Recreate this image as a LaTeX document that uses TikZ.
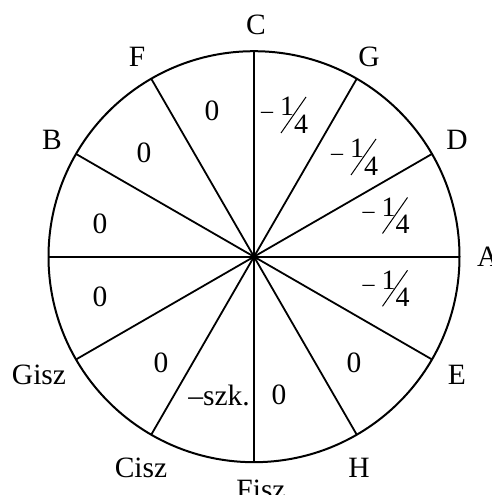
\documentclass[tikz,border=0pt]{standalone}
\usepackage{fontspec}
\setmainfont{Liberation Serif}
\begin{document}
\begin{tikzpicture}[x=1pt,y=-1pt,
  lab/.style={inner sep=0pt,font=\fontsize{29.5}{36}\selectfont},
  sm/.style={inner sep=0pt,font=\fontsize{28}{34}\selectfont},
  mn/.style={inner sep=0pt,font=\fontsize{24}{30}\selectfont},
  qtr/.pic={
    \node[mn] (-m) at (-26,0) {\textendash};
    \node[sm] (-n) at (-6,-8.5) {1};
    \node[sm] (-d) at (8,9) {4};
    \draw[line width=1pt] (-12,18) -- (13,-18);
  }]
\useasboundingbox (0,0) rectangle (491,495);
\coordinate (O) at (254,256.7);
\draw[line width=2pt] (O) circle[radius=205.5];
\foreach \a in {0,30,...,150}
  \draw[line width=1.8pt,shift={(O)}] (\a:205.5) -- (\a+180:205.5);
% outer labels
\node[lab] (C) at (256,25) {C};
\node[lab] (F) at (137,57) {F};
\node[lab] (G) at (369,57) {G};
\node[lab] (B) at (52,140) {B};
\node[lab] (D) at (457,140) {D};
\node[lab,anchor=west] (A) at (477,257) {A};
\node[lab] (Gisz) at (39,375) {Gisz};
\node[lab] (E) at (457,375) {E};
\node[lab] (Cisz) at (141,468) {Cisz};
\node[lab] (H) at (359,468) {H};
\node[lab] (Fisz) at (261,490) {Fisz};
% sector labels
\node[lab] (s1) at (212,111) {0};
\pic (f1) at (293,115) {qtr};
\pic (f2) at (363,157) {qtr};
\pic (f3) at (394.5,215.5) {qtr};
\pic (f4) at (394.5,288.3) {qtr};
\node[lab] (s6) at (354,363) {0};
\node[lab] (s7) at (279,395) {0};
\node[lab] (s8) at (219,395) {\textendash szk.};
\node[lab] (s9) at (161,363) {0};
\node[lab] (s10) at (100,297) {0};
\node[lab] (s11) at (100,224) {0};
\node[lab] (s12) at (144,153) {0};
\end{tikzpicture}
\end{document}
